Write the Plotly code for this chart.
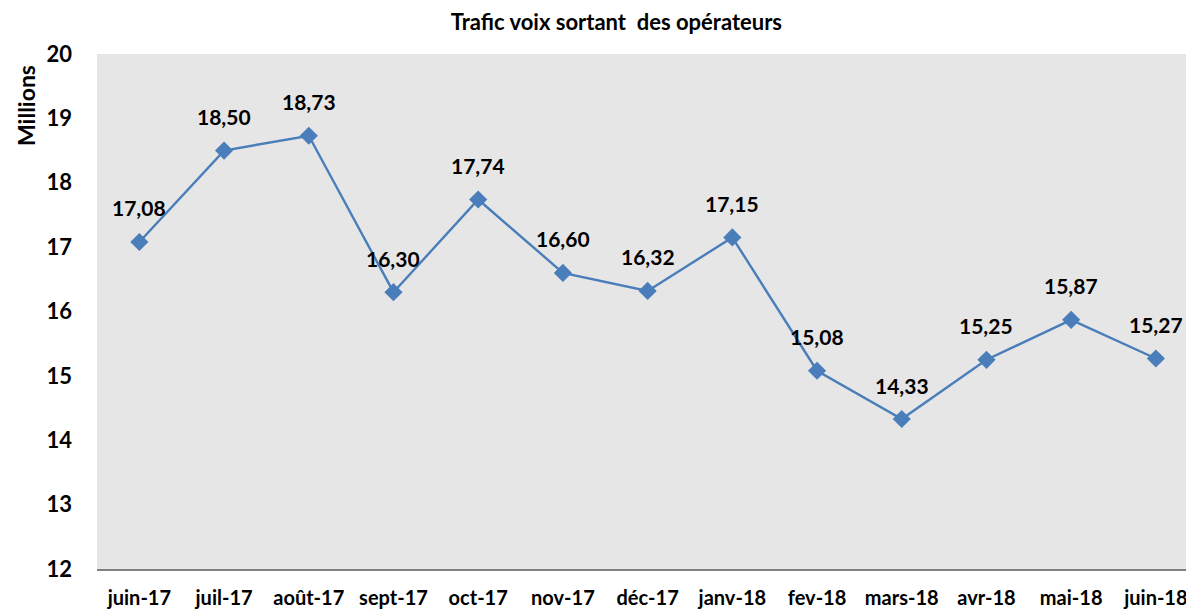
import plotly.graph_objects as go

categories = ["juin-17", "juil-17", "août-17", "sept-17", "oct-17", "nov-17", "déc-17",
              "janv-18", "fev-18", "mars-18", "avr-18", "mai-18", "juin-18"]
values = [17.08, 18.50, 18.73, 16.30, 17.74, 16.60, 16.32, 17.15, 15.08, 14.33, 15.25, 15.87, 15.27]
labels = [f"{v:.2f}".replace(".", ",") for v in values]
y_ticks = [12, 13, 14, 15, 16, 17, 18, 19, 20]

FONT = "Lato"
W, H = 1186, 603

fig = go.Figure()
fig.add_trace(go.Scatter(
    x=list(range(len(categories))), y=values,
    mode="lines+markers",
    line=dict(color="#4A7EBB", width=2.4),
    marker=dict(symbol="diamond", size=14, color="#4A7EBB"),
    cliponaxis=False,
    showlegend=False,
))

for i, (v, t) in enumerate(zip(values, labels)):
    fig.add_annotation(x=i, y=v, text=f"<b>{t}</b>", showarrow=False,
                       yshift=34, xanchor="center", yanchor="middle",
                       font=dict(family=FONT, size=21, color="black"))

fig.add_annotation(xref="paper", yref="paper", x=-89 / 1097, y=1 - (98 - 46) / 515,
                   xanchor="left", yanchor="middle", xshift=2, text="<b>Millions</b>",
                   textangle=-90, showarrow=False,
                   font=dict(family=FONT, size=23, color="black"))

fig.update_layout(
    width=W, height=H,
    margin=dict(l=89, r=0, t=46, b=42),
    paper_bgcolor="white",
    plot_bgcolor="#E6E6E6",
    title=dict(text="<b>Trafic voix sortant  des opérateurs</b>", x=0.513, xanchor="center",
               y=1 - 14 / H, yanchor="middle",
               font=dict(family=FONT, size=22, color="black")),
    xaxis=dict(
        tickmode="array", tickvals=list(range(len(categories))), ticktext=categories,
        range=[-0.5, 12.45], showgrid=False, zeroline=False,
        showline=True, linecolor="#808080", linewidth=2,
        ticks="", ticklen=0, ticklabelstandoff=10,
        tickfont=dict(family=FONT, size=20, color="black", weight="bold"),
    ),
    yaxis=dict(
        range=[12, 20], tickvals=y_ticks, showgrid=False, zeroline=False,
        showline=False, ticks="",
        ticklabelstandoff=24,
        tickfont=dict(family=FONT, size=22, color="black", weight="bold"),
    ),
)

fig.write_html("out.html")
